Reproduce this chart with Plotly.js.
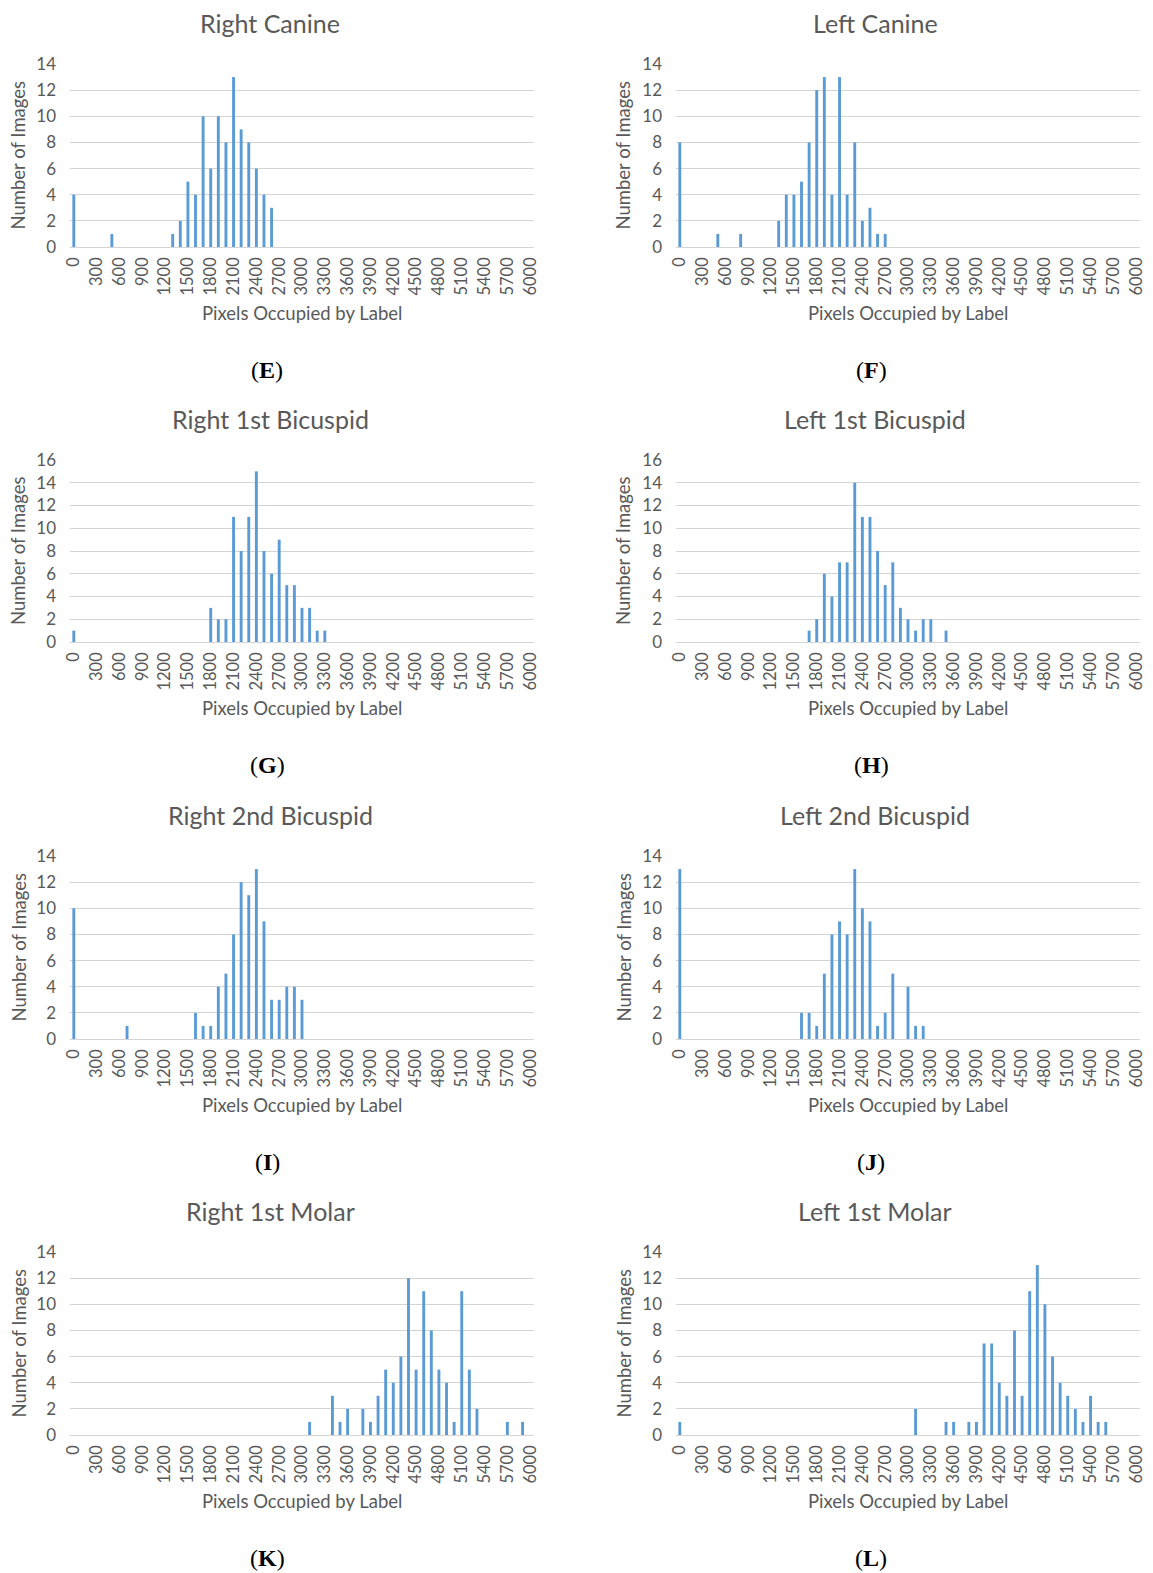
<!DOCTYPE html>
<html>
<head>
<meta charset="utf-8">
<script src="https://cdn.plot.ly/plotly-3.0.1.min.js"></script>
<style>html,body{margin:0;padding:0;background:#fff;}#chart{width:1153px;height:1573px;}</style>
</head>
<body>
<div id="chart"></div>
<script>
// ---- data ----
const panelTitles = ["Right Canine","Left Canine","Right 1st Bicuspid","Left 1st Bicuspid","Right 2nd Bicuspid","Left 2nd Bicuspid","Right 1st Molar","Left 1st Molar"];
const panelLetters = ["E","F","G","H","I","J","K","L"];
const xTickLabels = [0,300,600,900,1200,1500,1800,2100,2400,2700,3000,3300,3600,3900,4200,4500,4800,5100,5400,5700,6000];

const binsE = [0,500,1300,1400,1500,1600,1700,1800,1900,2000,2100,2200,2300,2400,2500,2600];
const countsE = [4,1,1,2,5,4,10,6,10,8,13,9,8,6,4,3];
const binsF = [0,500,800,1300,1400,1500,1600,1700,1800,1900,2000,2100,2200,2300,2400,2500,2600,2700];
const countsF = [8,1,1,2,4,4,5,8,12,13,4,13,4,8,2,3,1,1];
const binsG = [0,1800,1900,2000,2100,2200,2300,2400,2500,2600,2700,2800,2900,3000,3100,3200,3300];
const countsG = [1,3,2,2,11,8,11,15,8,6,9,5,5,3,3,1,1];
const binsH = [1700,1800,1900,2000,2100,2200,2300,2400,2500,2600,2700,2800,2900,3000,3100,3200,3300,3500];
const countsH = [1,2,6,4,7,7,14,11,11,8,5,7,3,2,1,2,2,1];
const binsI = [0,700,1600,1700,1800,1900,2000,2100,2200,2300,2400,2500,2600,2700,2800,2900,3000];
const countsI = [10,1,2,1,1,4,5,8,12,11,13,9,3,3,4,4,3];
const binsJ = [0,1600,1700,1800,1900,2000,2100,2200,2300,2400,2500,2600,2700,2800,3000,3100,3200];
const countsJ = [13,2,2,1,5,8,9,8,13,10,9,1,2,5,4,1,1];
const binsK = [3100,3400,3500,3600,3800,3900,4000,4100,4200,4300,4400,4500,4600,4700,4800,4900,5000,5100,5200,5300,5700,5900];
const countsK = [1,3,1,2,2,1,3,5,4,6,12,5,11,8,5,4,1,11,5,2,1,1];
const binsL = [0,3100,3500,3600,3800,3900,4000,4100,4200,4300,4400,4500,4600,4700,4800,4900,5000,5100,5200,5300,5400,5500,5600];
const countsL = [1,2,1,1,1,1,7,7,4,3,8,3,11,13,10,6,4,3,2,1,3,1,1];
const yMaxes = [14,14,16,16,14,14,14,14];

// ---- layout ----
const W = 1153, H = 1573;
const bins = [binsE,binsF,binsG,binsH,binsI,binsJ,binsK,binsL];
const counts = [countsE,countsF,countsG,countsH,countsI,countsJ,countsK,countsL];
const colX = [[70,534],[676,1140]];
const rowY = [[64,247],[460,642],[856,1039],[1252,1435]];
const txt = '#595959';
const font = 'Lato, "Open Sans", sans-serif';

const traces = [];
const layout = {
  width: W, height: H,
  margin: {l:0,r:0,t:0,b:0},
  paper_bgcolor: '#fff', plot_bgcolor: '#fff',
  showlegend: false,
  font: {family: font, color: txt},
  annotations: []
};

for (let i = 0; i < 8; i++) {
  const col = i % 2, row = Math.floor(i / 2);
  const n = i + 1;
  const xa = n === 1 ? 'x' : 'x' + n;
  const ya = n === 1 ? 'y' : 'y' + n;
  traces.push({
    type: 'bar', x: bins[i], y: counts[i], xaxis: xa, yaxis: ya,
    width: 38, marker: {color: '#5b9bd5'}, hoverinfo: 'x+y'
  });
  const xk = n === 1 ? 'xaxis' : 'xaxis' + n;
  const yk = n === 1 ? 'yaxis' : 'yaxis' + n;
  const [x0, x1] = colX[col];
  const [y0, y1] = rowY[row];
  layout[xk] = {
    domain: [x0 / W, x1 / W], anchor: ya,
    range: [-50, 6050], tickmode: 'array', tickvals: xTickLabels,
    ticktext: xTickLabels.map(String), tickangle: -90,
    showgrid: false, zeroline: false, showline: false, ticks: '',
    ticklabelstandoff: 6,
    tickfont: {family: font, size: 16.5, color: txt}, fixedrange: true
  };
  const yt = [];
  for (let v = 0; v <= yMaxes[i]; v += 2) yt.push(v);
  layout[yk] = {
    domain: [1 - y1 / H, 1 - y0 / H], anchor: xa,
    range: [0, yMaxes[i]], tickmode: 'array', tickvals: yt,
    showgrid: true, gridcolor: '#d4d4d4', gridwidth: 1,
    zeroline: true, zerolinecolor: '#d4d4d4', zerolinewidth: 1,
    showline: false, ticks: '', ticklabelstandoff: 13,
    tickfont: {family: font, size: 17, color: txt}, fixedrange: true
  };
  const cx = (x0 + x1) / 2;
  // title
  layout.annotations.push({
    xref: 'paper', yref: 'paper', x: (col === 0 ? 270 : 875) / W, y: 1 - (y0 - 41) / H,
    text: panelTitles[i], showarrow: false, xanchor: 'center', yanchor: 'middle',
    font: {family: font, size: 25, color: txt}
  });
  // y-axis title
  layout.annotations.push({
    xref: 'paper', yref: 'paper', x: (col === 0 ? 18 : 623) / W, y: 1 - ((y0 + y1) / 2) / H,
    text: 'Number of Images', textangle: -90, showarrow: false, xanchor: 'center', yanchor: 'middle',
    font: {family: font, size: 18.5, color: txt}
  });
  // x-axis title
  layout.annotations.push({
    xref: 'paper', yref: 'paper', x: cx / W, y: 1 - (y1 + 66) / H,
    text: 'Pixels Occupied by Label', showarrow: false, xanchor: 'center', yanchor: 'middle',
    font: {family: font, size: 18.5, color: txt}
  });
  // panel letter
  layout.annotations.push({
    xref: 'paper', yref: 'paper', x: (col === 0 ? 267 : 871) / W, y: 1 - (y1 + 123) / H,
    text: '(<b>' + panelLetters[i] + '</b>)', showarrow: false, xanchor: 'center', yanchor: 'middle',
    font: {family: '"Liberation Serif", "DejaVu Serif", serif', size: 24, color: '#000'}
  });
}

Plotly.newPlot('chart', traces, layout, {displayModeBar: false, staticPlot: true});
</script>
</body>
</html>
